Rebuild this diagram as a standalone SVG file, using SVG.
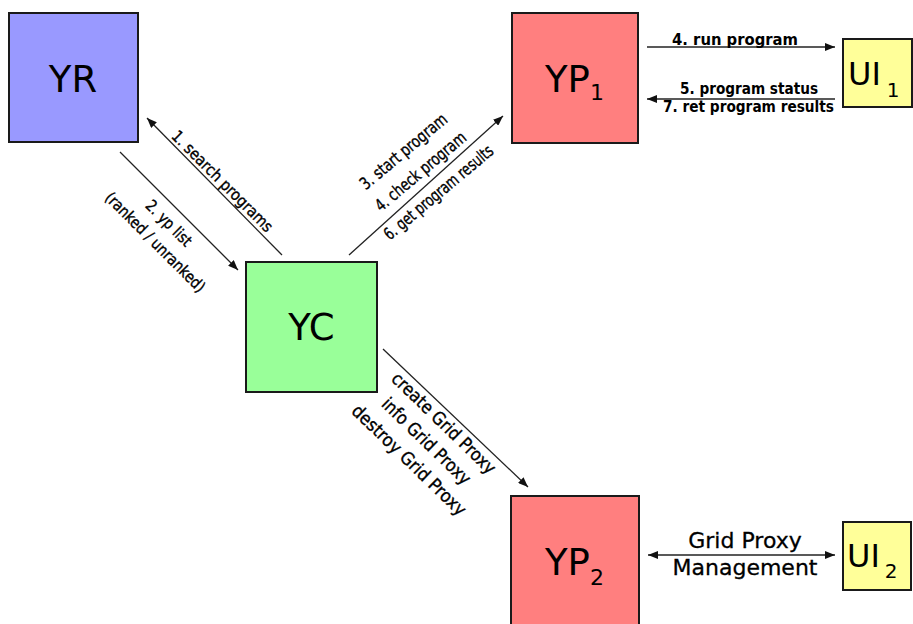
<svg xmlns="http://www.w3.org/2000/svg" width="913" height="624" viewBox="0 0 913 624">
<style>
.box{stroke:#1a1a1a;stroke-width:2}
.node{font-family:"DejaVu Sans","Verdana",sans-serif;fill:#000}
.lbl{font-family:"DejaVu Sans Condensed","DejaVu Sans",sans-serif;font-size:16px;fill:#000;stroke:#000;stroke-width:0.35;text-anchor:middle}
.mid{font-size:17px}
.big{font-size:18px}
.hb{font-family:"DejaVu Sans Condensed","DejaVu Sans",sans-serif;font-size:16px;font-weight:bold;fill:#000;text-anchor:middle}
.gp{font-family:"DejaVu Sans","Verdana",sans-serif;font-size:22px;fill:#000;stroke:#000;stroke-width:0.3;text-anchor:middle}
.conn{stroke:#222;stroke-width:1.3;fill:none}
</style>
<defs>
<marker id="ah" viewBox="0 0 10 8" refX="10" refY="4" markerWidth="10" markerHeight="8" markerUnits="userSpaceOnUse" orient="auto-start-reverse">
<path d="M0,0 L10,4 L0,8 Z" fill="#111"/>
</marker>
</defs>
<rect width="913" height="624" fill="#fff"/>
<g id="connectors">
<line class="conn" x1="282" y1="255" x2="147" y2="118" marker-end="url(#ah)"/>
<line class="conn" x1="120" y1="152" x2="238" y2="270" marker-end="url(#ah)"/>
<line class="conn" x1="349" y1="255" x2="503" y2="116" marker-end="url(#ah)"/>
<line class="conn" x1="383" y1="349" x2="528" y2="487" marker-end="url(#ah)"/>
<line class="conn" x1="647" y1="47" x2="835" y2="47" marker-end="url(#ah)"/>
<line class="conn" x1="835" y1="99" x2="647" y2="99" marker-end="url(#ah)"/>
<line class="conn" x1="648" y1="555" x2="835" y2="555" marker-start="url(#ah)" marker-end="url(#ah)"/>
<text class="lbl" transform="translate(222,181.5) rotate(45)" y="5" textLength="136" lengthAdjust="spacingAndGlyphs">1. search programs</text>
<text class="lbl" transform="translate(168.5,223.5) rotate(45)" y="5" textLength="58" lengthAdjust="spacingAndGlyphs">2. yp list</text>
<text class="lbl" transform="translate(155,242.5) rotate(45)" y="5" textLength="134" lengthAdjust="spacingAndGlyphs">(ranked / unranked)</text>
<text class="lbl mid" transform="translate(404,152) rotate(-40)" y="5" textLength="108" lengthAdjust="spacingAndGlyphs">3. start program</text>
<text class="lbl mid" transform="translate(421,172) rotate(-40)" y="5" textLength="113" lengthAdjust="spacingAndGlyphs">4. check program</text>
<text class="lbl mid" transform="translate(439,193) rotate(-40)" y="5" textLength="137" lengthAdjust="spacingAndGlyphs">6. get program results</text>
<text class="lbl big" transform="translate(443,424) rotate(44)" y="5" textLength="137" lengthAdjust="spacingAndGlyphs">create Grid Proxy</text>
<text class="lbl big" transform="translate(425.6,442) rotate(44)" y="5" textLength="116" lengthAdjust="spacingAndGlyphs">info Grid Proxy</text>
<text class="lbl big" transform="translate(408.3,461) rotate(44)" y="5" textLength="151" lengthAdjust="spacingAndGlyphs">destroy Grid Proxy</text>
<text class="hb" x="735" y="45" textLength="126" lengthAdjust="spacingAndGlyphs">4. run program</text>
<text class="hb" x="749" y="94" textLength="138" lengthAdjust="spacingAndGlyphs">5. program status</text>
<text class="hb" x="748.5" y="112" textLength="171" lengthAdjust="spacingAndGlyphs">7. ret program results</text>
<text class="gp" x="745" y="548">Grid Proxy</text>
<text class="gp" x="745" y="575">Management</text>
</g>
<g id="YR">
<rect class="box" x="9" y="13" width="129" height="129" fill="#9999ff"/>
<text class="node" x="73" y="92" font-size="37" text-anchor="middle">YR</text>
</g>
<g id="YC">
<rect class="box" x="246" y="262" width="131" height="130" fill="#99ff99"/>
<text class="node" x="311.5" y="340" font-size="37" text-anchor="middle">YC</text>
</g>
<g id="YP1">
<rect class="box" x="512" y="13" width="126" height="130" fill="#ff7f7f"/>
<text class="node" x="545" y="92" font-size="37">YP<tspan font-size="22" dy="8">1</tspan></text>
</g>
<g id="YP2">
<rect class="box" x="511" y="496" width="128" height="131" fill="#ff7f7f"/>
<text class="node" x="545" y="575" font-size="37">YP<tspan font-size="22" dy="10">2</tspan></text>
</g>
<g id="UI1">
<rect class="box" x="843" y="39" width="69" height="68" fill="#ffff99"/>
<text class="node" x="848" y="85" font-size="32">UI<tspan font-size="20" dx="6" dy="12">1</tspan></text>
</g>
<g id="UI2">
<rect class="box" x="843" y="522" width="68" height="68" fill="#ffff99"/>
<text class="node" x="847" y="567" font-size="32">UI<tspan font-size="20" dx="5" dy="11">2</tspan></text>
</g>
</svg>
